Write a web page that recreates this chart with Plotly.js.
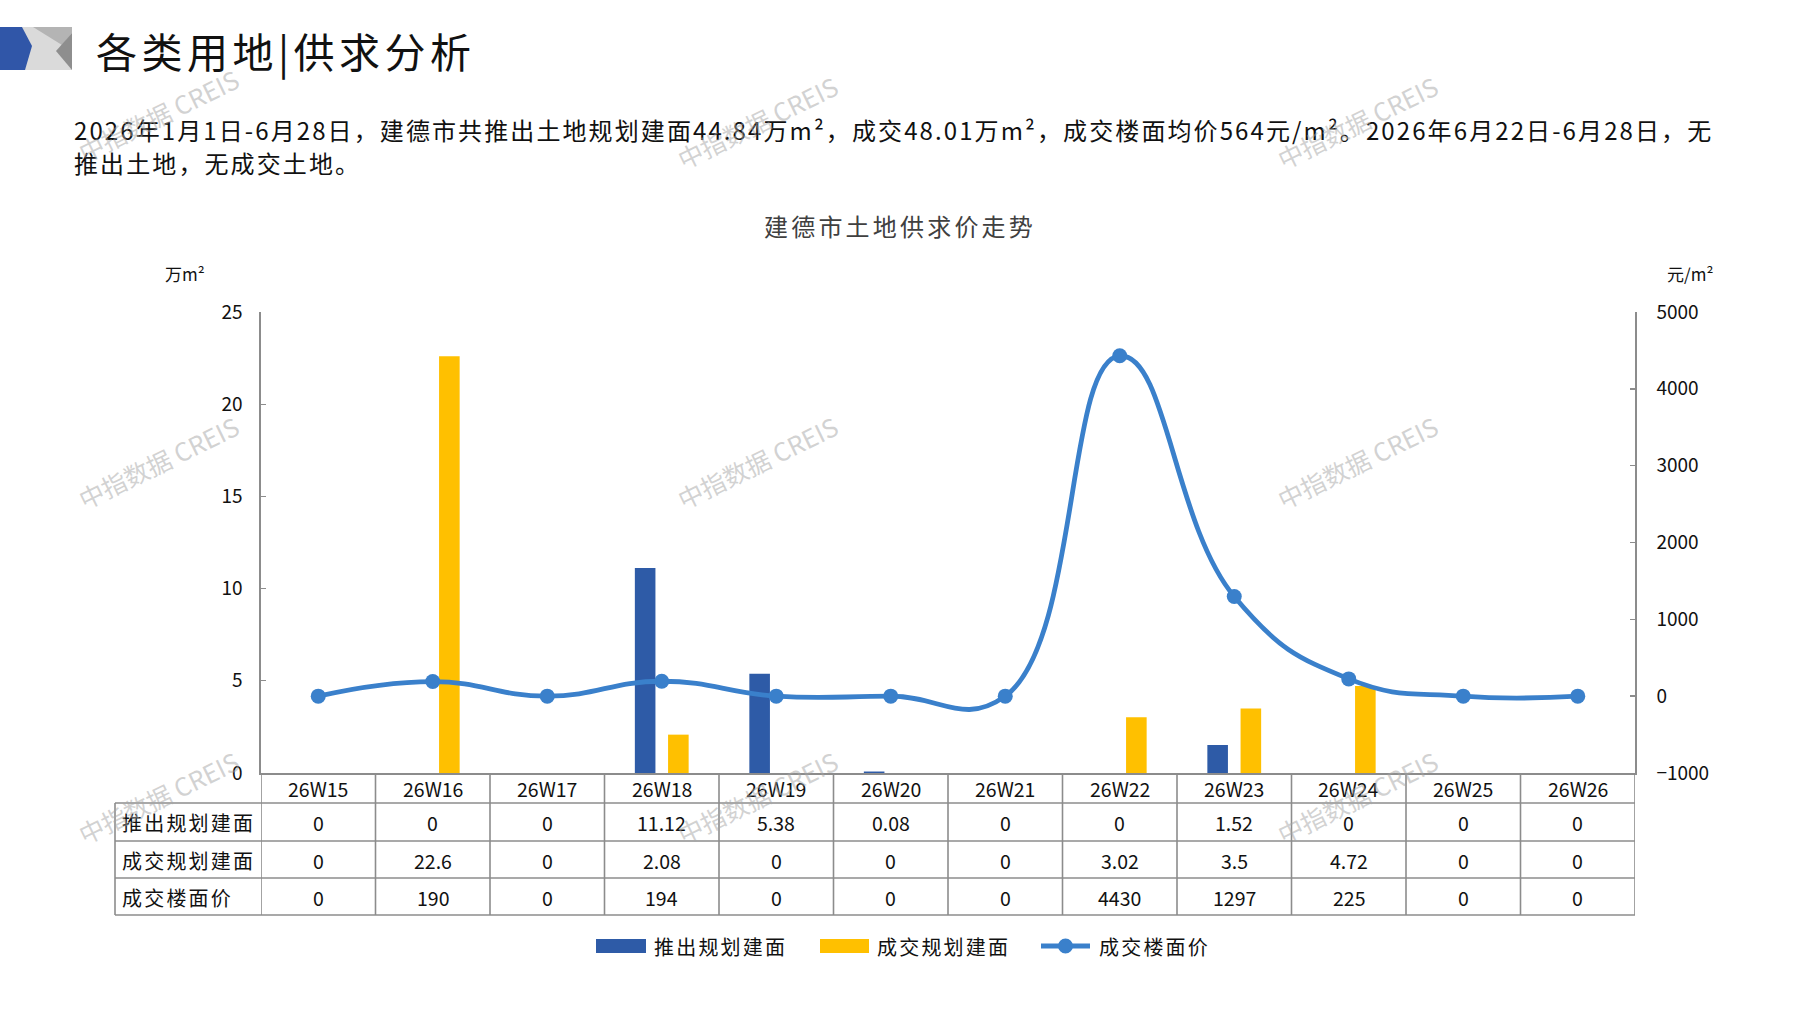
<!DOCTYPE html>
<html>
<head>
<meta charset="utf-8">
<script src="https://cdn.plot.ly/plotly-3.0.1.min.js"></script>
<style>
html,body{margin:0;padding:0;background:#fff;}
#chart{width:1797px;height:1010px;}
</style>
</head>
<body>
<div id="chart"></div>
<script>
// ---------- data ----------
const categories = ['26W15','26W16','26W17','26W18','26W19','26W20','26W21','26W22','26W23','26W24','26W25','26W26'];
const supplyArea = [0, 0, 0, 11.12, 5.38, 0.08, 0, 0, 1.52, 0, 0, 0];      // 推出规划建面
const dealArea   = [0, 22.6, 0, 2.08, 0, 0, 0, 3.02, 3.5, 4.72, 0, 0];     // 成交规划建面
const dealPrice  = [0, 190, 0, 194, 0, 0, 0, 4430, 1297, 225, 0, 0];       // 成交楼面价
const seriesNames = ['推出规划建面', '成交规划建面', '成交楼面价'];
const leftTicks  = [0, 5, 10, 15, 20, 25];
const rightTicks = [-1000, 0, 1000, 2000, 3000, 4000, 5000];

const headerTitle = '各类用地|供求分析';
const paragraph1 = '2026年1月1日-6月28日，建德市共推出土地规划建面44.84万m²，成交48.01万m²，成交楼面均价564元/m²。2026年6月22日-6月28日，无';
const paragraph2 = '推出土地，无成交土地。';
const chartTitle = '建德市土地供求价走势';
const leftUnit = '万m²';
const rightUnit = '元/m²';
const watermark = '中指数据 CREIS';

// ---------- geometry helpers (pixels -> paper) ----------
const W = 1797, H = 1010;
const L = 261, R = 1635, T = 312, B = 773;
const px = x => (x - L) / (R - L);
const py = y => (B - y) / (B - T);

const FONT = '"Noto Sans CJK SC", "Noto Sans", sans-serif';
const BLUE = '#2E5BA7', YELLOW = '#FFC000', LINE = '#3A80CB', GRID = '#8C8C8C';

// ---------- traces ----------
const traces = [
  {type:'bar', name:seriesNames[0], x:categories, y:supplyArea, marker:{color:BLUE}, yaxis:'y'},
  {type:'bar', name:seriesNames[1], x:categories, y:dealArea, marker:{color:YELLOW}, yaxis:'y'},
  {type:'scatter', mode:'lines+markers', name:seriesNames[2], x:categories, y:dealPrice, yaxis:'y2',
   line:{color:LINE, width:4.8, shape:'spline', smoothing:1.3},
   marker:{color:LINE, size:15}, cliponaxis:false}
];

// ---------- shapes & annotations ----------
const shapes = [];
const annotations = [];
const spacing = {};   // annotation index -> letter spacing (px)
function addText(a, ls){
  annotations.push(Object.assign({showarrow:false}, a));
  if (ls) spacing[annotations.length - 1] = ls;
}
function pathPx(pts){
  return 'M' + pts.map(p => px(p[0]) + ',' + py(p[1])).join(' L') + ' Z';
}

// logo
shapes.push({type:'path', xref:'paper', yref:'paper', path:pathPx([[0,27],[72,27],[72,70],[0,70]]), fillcolor:'#DADADA', line:{width:0}});
shapes.push({type:'path', xref:'paper', yref:'paper', path:pathPx([[33,27],[72,27],[72,33],[62,45]]), fillcolor:'#B4B4B4', line:{width:0}});
shapes.push({type:'path', xref:'paper', yref:'paper', path:pathPx([[72,33],[56,51],[72,70]]), fillcolor:'#8E8E8E', line:{width:0}});
shapes.push({type:'path', xref:'paper', yref:'paper', path:pathPx([[0,27],[22,27],[32,46],[25,70],[0,70]]), fillcolor:'#3056A8', line:{width:0}});

// table geometry
const rowLines = [803, 841, 878, 915];
const rowCenters = [788, 822, 860, 897];
const tableLeft = 115;
const n = categories.length;
rowLines.forEach(y => {
  shapes.push({type:'line', xref:'paper', yref:'paper', x0:px(tableLeft), x1:1, y0:py(y), y1:py(y), line:{color:GRID, width:1.6}});
});
shapes.push({type:'line', xref:'paper', yref:'paper', x0:px(tableLeft), x1:px(tableLeft), y0:py(803), y1:py(915), line:{color:GRID, width:1.6}});
for (let i = 0; i <= n; i++) {
  shapes.push({type:'line', xref:'x', yref:'paper', x0:i-0.5, x1:i-0.5, y0:0, y1:py(915), line:{color:GRID, width:1.6}});
}

// table header (categories) and cells
const cellFont = {family:FONT, size:19.5, color:'#111'};
categories.forEach((c, i) => {
  addText({xref:'x', yref:'paper', x:c, y:py(rowCenters[0]), text:c, yanchor:'middle', font:cellFont});
  [supplyArea, dealArea, dealPrice].forEach((arr, r) => {
    addText({xref:'x', yref:'paper', x:c, y:py(rowCenters[r+1]), text:String(arr[i]), yanchor:'middle', font:cellFont});
  });
});
seriesNames.forEach((s, r) => {
  addText({xref:'paper', yref:'paper', x:px(120), y:py(rowCenters[r+1]), text:s, xanchor:'left', align:'left', yanchor:'middle',
    font:{family:FONT, size:20, color:'#111'}}, 2.2);
});

// header texts
addText({xref:'paper', yref:'paper', x:px(94), y:py(50), text:headerTitle, xanchor:'left', align:'left', yanchor:'middle',
  font:{family:FONT, size:41, color:'#111'}}, 4.5);
addText({xref:'paper', yref:'paper', x:px(72), y:py(130), text:paragraph1, xanchor:'left', align:'left', yanchor:'middle',
  font:{family:FONT, size:24, color:'#111'}}, 2.1);
addText({xref:'paper', yref:'paper', x:px(72), y:py(162), text:paragraph2, xanchor:'left', align:'left', yanchor:'middle',
  font:{family:FONT, size:24, color:'#111'}}, 2.1);
addText({xref:'paper', yref:'paper', x:px(900), y:py(225), text:chartTitle, xanchor:'center', yanchor:'middle',
  font:{family:FONT, size:24, color:'#404040'}}, 3.2);
addText({xref:'paper', yref:'paper', x:px(185), y:py(274), text:leftUnit, xanchor:'center', yanchor:'middle',
  font:{family:FONT, size:17, color:'#111'}});
addText({xref:'paper', yref:'paper', x:px(1690), y:py(274), text:rightUnit, xanchor:'center', yanchor:'middle',
  font:{family:FONT, size:17, color:'#111'}});

// legend (custom)
const legY = 946;
const legFont = {family:FONT, size:20, color:'#111'};
shapes.push({type:'rect', xref:'paper', yref:'paper', x0:px(596), x1:px(646), y0:py(legY-7), y1:py(legY+7), fillcolor:BLUE, line:{width:0}});
addText({xref:'paper', yref:'paper', x:px(652), y:py(legY), text:seriesNames[0], xanchor:'left', align:'left', yanchor:'middle', font:legFont}, 2.2);
shapes.push({type:'rect', xref:'paper', yref:'paper', x0:px(820), x1:px(869), y0:py(legY-7), y1:py(legY+7), fillcolor:YELLOW, line:{width:0}});
addText({xref:'paper', yref:'paper', x:px(875), y:py(legY), text:seriesNames[1], xanchor:'left', align:'left', yanchor:'middle', font:legFont}, 2.2);
shapes.push({type:'line', xref:'paper', yref:'paper', x0:px(1041), x1:px(1090), y0:py(legY), y1:py(legY), line:{color:LINE, width:5}});
shapes.push({type:'circle', xref:'paper', yref:'paper', x0:px(1058), x1:px(1073), y0:py(legY-7.5), y1:py(legY+7.5), fillcolor:LINE, line:{width:0}});
addText({xref:'paper', yref:'paper', x:px(1097), y:py(legY), text:seriesNames[2], xanchor:'left', align:'left', yanchor:'middle', font:legFont}, 2.2);

// watermarks
const wmPos = [[158,115],[757,122],[1357,122],[158,462],[757,462],[1357,462],[158,797],[757,797],[1357,797]];
wmPos.forEach(p => {
  addText({xref:'paper', yref:'paper', x:px(p[0]), y:py(p[1]), text:watermark, textangle:-26,
    xanchor:'center', yanchor:'middle', font:{family:FONT, size:25, color:'rgba(165,165,165,0.5)'}});
});

const layout = {
  width: W, height: H,
  margin: {l:L, r:W-R, t:T, b:H-B, pad:0},
  paper_bgcolor:'#fff', plot_bgcolor:'#fff',
  showlegend:false,
  barmode:'group', bargap:0.42, bargroupgap:0.38,
  xaxis: {type:'category', showticklabels:false, ticks:'', showgrid:false, zeroline:false,
          showline:true, linecolor:GRID, linewidth:1.6, range:[-0.5, n-0.5], fixedrange:true},
  yaxis: {range:[0,25], tickvals:leftTicks, showgrid:false, zeroline:false, showline:true, linecolor:GRID, linewidth:1.6,
          ticks:'inside', ticklen:5, tickcolor:GRID, tickwidth:1.4, ticklabelstandoff:13,
          tickfont:{family:FONT, size:19, color:'#111'}, fixedrange:true},
  yaxis2: {range:[-1000,5000], tickvals:rightTicks, overlaying:'y', side:'right', showgrid:false, zeroline:false,
          showline:true, linecolor:GRID, linewidth:1.6, ticks:'inside', ticklen:5, tickcolor:GRID, tickwidth:1.4,
          ticklabelstandoff:16, tickfont:{family:FONT, size:19, color:'#111'}, fixedrange:true},
  shapes: shapes,
  annotations: annotations,
  font:{family:FONT}
};

Plotly.newPlot('chart', traces, layout, {displayModeBar:false, staticPlot:true}).then(gd => {
  document.querySelectorAll('g.annotation').forEach(g => {
    const idx = g.getAttribute('data-index');
    if (idx !== null && spacing[idx] !== undefined) {
      const t = g.querySelector('text.annotation-text');
      if (t) t.style.letterSpacing = spacing[idx] + 'px';
    }
  });
});
</script>
</body>
</html>
